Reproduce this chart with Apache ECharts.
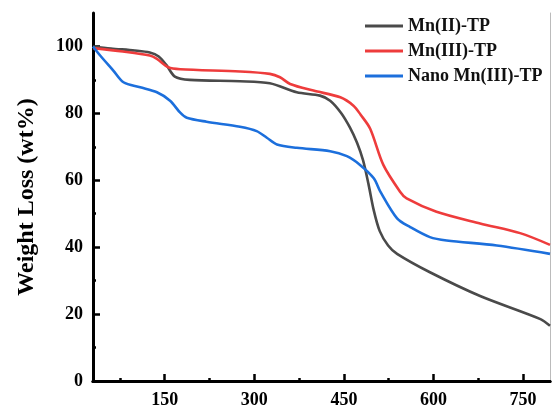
<!DOCTYPE html>
<html>
<head>
<meta charset="utf-8">
<script src="https://cdn.jsdelivr.net/npm/echarts@6/dist/echarts.min.js"></script>
<style>
  html, body { margin: 0; padding: 0; background: #fff; }
  #chart { width: 552px; height: 408px; }
</style>
</head>
<body>
<div id="chart"></div>
<script>
// TGA curves, temperature (x) vs weight (%)
var mn2Temp = [30, 60, 100, 125, 140, 153, 167, 192, 276, 326, 371, 410, 427, 445, 460, 472, 482, 491, 500, 510, 524, 539, 594, 678, 779, 795];
var mn2Wt   = [100, 99.4, 98.8, 98.2, 97, 94.4, 91, 90, 89.6, 89, 86.3, 85.3, 83.8, 80.2, 75.8, 71.2, 66, 59, 51, 44.8, 40.5, 38, 32.5, 25.4, 18.5, 16.5];

var mn3Temp = [30, 80, 125, 137, 156, 176, 276, 326, 343, 360, 399, 444, 466, 478, 494, 516, 544, 555, 605, 678, 745, 795];
var mn3Wt   = [99.5, 98.5, 97.3, 96.3, 93.8, 93.2, 92.5, 91.8, 90.8, 88.8, 86.8, 84.8, 82.3, 79.6, 75.4, 64.6, 56.6, 54.6, 50.6, 47.1, 44.2, 40.7];

var nanoTemp = [30, 42, 64, 81, 109, 137, 159, 176, 187, 220, 276, 304, 321, 338, 371, 427, 455, 477, 500, 511, 539, 561, 594, 622, 706, 795];
var nanoWt   = [100, 97.3, 92.8, 89.3, 87.8, 86.3, 83.8, 80.2, 78.7, 77.5, 76, 74.7, 72.7, 70.7, 69.7, 68.7, 67.2, 64.6, 60.6, 56.6, 48.6, 46, 43, 42, 40.5, 38];

var seriesNames = ['Mn(II)-TP', 'Mn(III)-TP', 'Nano Mn(III)-TP'];
var colors = ['#4a4a4a', '#ee3c3c', '#1c6fdc'];

var xMajor = [150, 300, 450, 600, 750];
var xMinor = [75, 225, 375, 525, 675];
var yMajor = [0, 20, 40, 60, 80, 100];
var yMinor = [10, 30, 50, 70, 90];

function pairs(xs, ys) {
    var out = [];
    for (var i = 0; i < xs.length; i++) out.push([xs[i], ys[i]]);
    return out;
}

var font = 'Liberation Serif';
var chart = echarts.init(document.getElementById('chart'));

function lineSeries(idx, data) {
    return {
        name: seriesNames[idx],
        type: 'line',
        data: data,
        smooth: 0.3,
        showSymbol: false,
        lineStyle: { color: colors[idx], width: 2.6 },
        itemStyle: { color: colors[idx] }
    };
}

var option = {
    backgroundColor: '#fff',
    animation: false,
    grid: { left: 93, right: 2, top: 13, bottom: 27, outerBoundsMode: 'none' },
    legend: {
        orient: 'vertical',
        left: 360,
        top: 11,
        icon: 'rect',
        itemWidth: 38,
        itemHeight: 3,
        itemGap: 5,
        data: seriesNames,
        textStyle: { color: '#111', fontFamily: font, fontWeight: 'bold', fontSize: 18, lineHeight: 20 }
    },
    xAxis: [
        {
            type: 'value', min: 30, max: 795, position: 'bottom',
            axisLine: { lineStyle: { color: '#000', width: 3 } },
            axisTick: { inside: true, length: 7, lineStyle: { color: '#000', width: 2.5 }, customValues: xMajor },
            axisLabel: { customValues: xMajor, color: '#000', fontFamily: font, fontWeight: 'bold', fontSize: 18, margin: 10 },
            splitLine: { show: false }
        },
        {
            type: 'value', min: 30, max: 795, position: 'bottom',
            axisLine: { show: false },
            axisTick: { inside: true, length: 3, lineStyle: { color: '#000', width: 2.5 }, customValues: xMinor },
            axisLabel: { show: false },
            splitLine: { show: false }
        },
        {
            type: 'value', min: 30, max: 795, position: 'top',
            axisLine: { lineStyle: { color: '#000', width: 3 } },
            axisTick: { show: false },
            axisLabel: { show: false },
            splitLine: { show: false }
        }
    ],
    yAxis: [
        {
            type: 'value', min: 0, max: 110, position: 'left',
            name: 'Weight Loss (wt%)',
            nameLocation: 'middle',
            nameGap: 54,
            nameTextStyle: { color: '#000', fontFamily: font, fontWeight: 'bold', fontSize: 24 },
            axisLine: { lineStyle: { color: '#000', width: 3 } },
            axisTick: { inside: true, length: 7, lineStyle: { color: '#000', width: 2.5 }, customValues: yMajor },
            axisLabel: { customValues: yMajor, color: '#000', fontFamily: font, fontWeight: 'bold', fontSize: 18, margin: 10 },
            splitLine: { show: false }
        },
        {
            type: 'value', min: 0, max: 110, position: 'left',
            axisLine: { show: false },
            axisTick: { inside: true, length: 3, lineStyle: { color: '#000', width: 2.5 }, customValues: yMinor },
            axisLabel: { show: false },
            splitLine: { show: false }
        },
        {
            type: 'value', min: 0, max: 110, position: 'right',
            axisLine: { lineStyle: { color: '#bbb', width: 1 } },
            axisTick: { show: false },
            axisLabel: { show: false },
            splitLine: { show: false }
        }
    ],
    series: [
        lineSeries(0, pairs(mn2Temp, mn2Wt)),
        lineSeries(1, pairs(mn3Temp, mn3Wt)),
        lineSeries(2, pairs(nanoTemp, nanoWt))
    ]
};

chart.setOption(option);
</script>
</body>
</html>
